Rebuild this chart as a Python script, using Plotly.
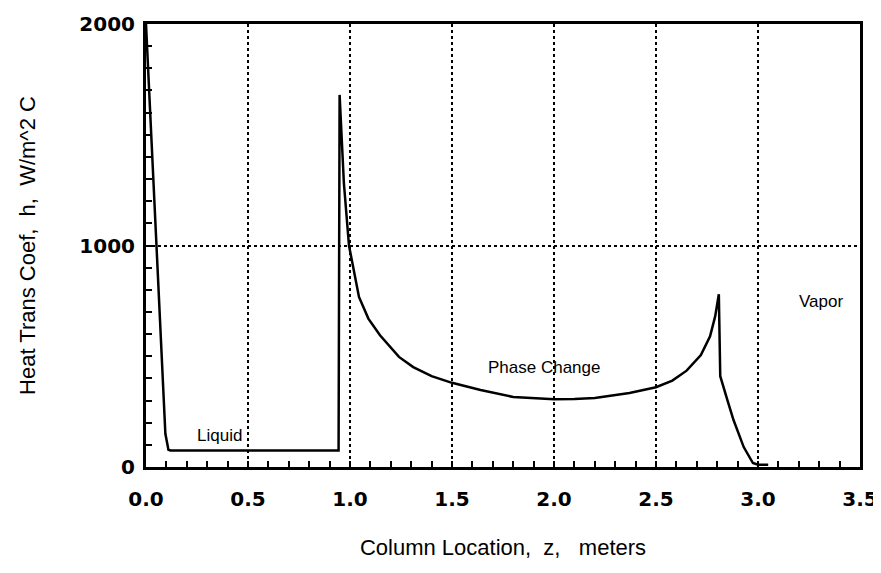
import plotly.graph_objects as go

# Column location z (m) and heat transfer coefficient h (W/m^2 C)
z = [0.0, 0.05, 0.095, 0.11, 0.12, 0.5, 0.935, 0.944, 0.949, 0.97, 0.995,
     1.044, 1.09, 1.147, 1.24, 1.31, 1.4, 1.5, 1.64, 1.8, 2.0, 2.1, 2.2,
     2.37, 2.5, 2.58, 2.65, 2.72, 2.765, 2.79, 2.808, 2.815, 2.85, 2.88,
     2.93, 2.975, 3.0, 3.05]
h = [2000, 1030, 150, 78, 75, 75, 75, 75, 1680, 1282, 1000,
     768, 670, 595, 497, 451, 410, 380, 348, 316, 306, 307, 312,
     334, 360, 390, 435, 505, 590, 680, 780, 410, 302, 212,
     90, 18, 10, 10]

x_ticks = [0.0, 0.5, 1.0, 1.5, 2.0, 2.5, 3.0, 3.5]
x_tick_text = ["0.0", "0.5", "1.0", "1.5", "2.0", "2.5", "3.0", "3.5"]
y_ticks = [0, 1000, 2000]
y_tick_text = ["0", "1000", "2000"]

region_labels = ["Liquid", "Phase Change", "Vapor"]
region_x = [0.36, 1.95, 3.31]
region_y = [140, 447, 745]

fig = go.Figure()
fig.add_trace(go.Scatter(x=z, y=h, mode="lines",
                         line=dict(color="black", width=2.5),
                         showlegend=False, cliponaxis=True))

for t, xx, yy in zip(region_labels, region_x, region_y):
    fig.add_annotation(x=xx, y=yy, text=t, showarrow=False,
                       font=dict(family="Liberation Sans", size=17, color="black"))

axis_common = dict(showline=True, linecolor="black", linewidth=3, mirror=True,
                   ticks="inside", ticklen=6, tickwidth=2, tickcolor="black",
                   showgrid=True, gridcolor="black", griddash="dot", gridwidth=2,
                   zeroline=False, automargin=False)

fig.update_xaxes(range=[0, 3.5], tickvals=x_ticks, ticktext=x_tick_text,
                 tickfont=dict(family="DejaVu Sans", size=20, color="black", weight="bold"),
                 ticklabelstandoff=12,
                 title=dict(text="Column Location,  z,   meters",
                            font=dict(family="Liberation Sans", size=22, color="black"),
                            standoff=30),
                 minor=dict(dtick=0.1, ticks="inside", ticklen=6, tickwidth=2,
                            tickcolor="black", showgrid=False),
                 **axis_common)
fig.update_yaxes(range=[0, 2000], tickvals=y_ticks, ticktext=y_tick_text,
                 tickfont=dict(family="DejaVu Sans", size=20, color="black", weight="bold"),
                 ticklabelstandoff=4,
                 title=dict(text="Heat Trans Coef,  h,  W/m^2 C",
                            font=dict(family="Liberation Sans", size=22, color="black"),
                            standoff=38),
                 minor=dict(dtick=100, ticks="inside", ticklen=6, tickwidth=2,
                            tickcolor="black", showgrid=False),
                 **axis_common)

fig.update_layout(width=881, height=573,
                  margin=dict(l=138, r=29, t=16, b=114),
                  plot_bgcolor="white", paper_bgcolor="white")

fig.write_html("out.html")
